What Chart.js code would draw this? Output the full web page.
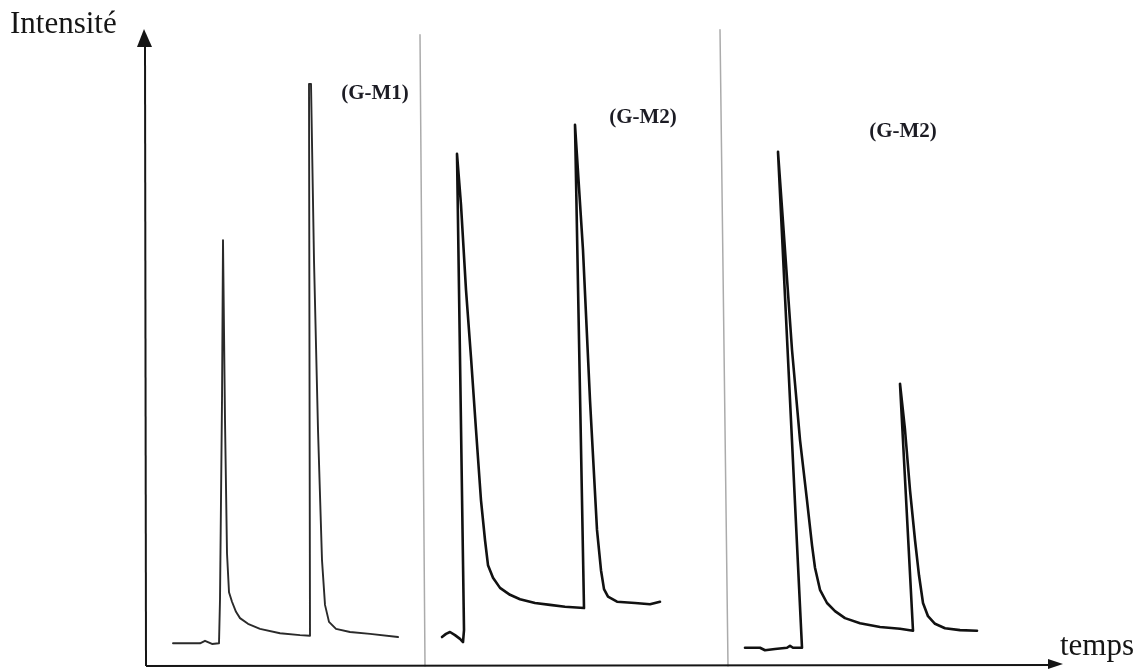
<!DOCTYPE html>
<html lang="fr">
<head>
<meta charset="utf-8">
<title>Intensité / temps</title>
<script src="https://cdn.jsdelivr.net/npm/chart.js@4/dist/chart.umd.min.js"></script>
<style>
  html, body { margin: 0; padding: 0; background: #fff; }
  #wrap { width: 1142px; height: 670px; position: relative; }
</style>
</head>
<body>
<div id="wrap"><canvas id="chromato"></canvas></div>
<script>
// ─── Traces (time in arbitrary units, intensity in % of full scale) ─────────
const p1Time      = [2.7, 5.4, 5.9, 6.6, 7.3, 7.4, 7.6, 7.7, 7.9, 8.1, 8.3, 8.6, 9.0, 9.4, 10.2, 11.4, 13.4, 15.4, 16.4,
                     16.3, 16.5, 16.8, 17.2, 17.6, 17.9, 18.3, 19.0, 20.4, 22.4, 25.2];
const p1Intensity = [3.6, 3.6, 4.0, 3.5, 3.6, 10.5, 42.2, 67.6, 39.0, 17.9, 11.7, 10.2, 8.6, 7.6, 6.7, 5.9, 5.2, 4.9, 4.8,
                     92.4, 92.4, 64.4, 37.5, 16.8, 9.7, 7.0, 5.9, 5.4, 5.1, 4.6];

const p2Time      = [29.6, 30.0, 30.4, 30.9, 31.4, 31.7, 31.8, 31.1, 31.5, 32.0, 32.5, 33.0, 33.5, 33.9,
                     34.2, 34.7, 35.4, 36.4, 37.4, 38.9, 40.4, 41.9, 43.8,
                     42.9, 43.7, 44.4, 45.1, 45.5, 45.8, 46.2, 47.1, 48.9, 50.4, 51.4];
const p2Intensity = [4.6, 5.1, 5.4, 4.9, 4.3, 3.8, 5.7, 81.3, 73.2, 59.7, 49.0, 37.5, 26.3, 20.0,
                     16.0, 14.0, 12.4, 11.3, 10.6, 10.0, 9.7, 9.4, 9.2,
                     85.9, 66.0, 42.2, 21.6, 15.2, 12.2, 11.0, 10.2, 10.0, 9.8, 10.2];

const p3Time      = [59.9, 61.4, 61.9, 62.9, 64.1, 64.4, 64.7, 65.6,
                     63.2, 63.9, 64.6, 65.4, 66.1, 66.6, 66.9, 67.4, 68.1, 68.9, 69.9, 71.4, 73.4, 75.4, 76.7,
                     75.4, 75.9, 76.4, 76.9, 77.3, 77.7, 78.2, 78.9, 79.9, 81.4, 83.1];
const p3Intensity = [2.9, 2.9, 2.5, 2.7, 2.9, 3.2, 2.9, 2.9,
                     81.6, 66.0, 50.2, 35.9, 26.3, 19.2, 15.6, 12.1, 10.0, 8.7, 7.6, 6.8, 6.2, 5.9, 5.6,
                     44.8, 37.5, 27.9, 20.0, 14.4, 10.0, 7.9, 6.7, 6.0, 5.7, 5.6];

const panelNames = ['(G-M1)', '(G-M2)', '(G-M2)'];

// ─── Layout helpers ─────────────────────────────────────────────────────────
const zip = (xs, ys) => xs.map((x, i) => ({ x, y: ys[i] }));

// panel separators (time at top, time at bottom, top intensity)
const separators = [[27.4, 27.9, 100.2], [57.4, 58.2, 101]];
// where each panel name sits, in data units
const nameAnchors = [[22.9, 90.8], [49.7, 87.1], [75.7, 84.8]];

const SERIF = '"Liberation Serif", "Times New Roman", serif';

function trace(data, color, width) {
  return {
    data, borderColor: color, borderWidth: width, showLine: true,
    pointRadius: 0, tension: 0, clip: false, borderJoinStyle: 'round', borderCapStyle: 'round'
  };
}

const datasets = [
  trace(zip(p1Time, p1Intensity), '#2a2a2a', 1.9),
  trace(zip(p2Time, p2Intensity), '#111', 2.6),
  trace(zip(p3Time, p3Intensity), '#111', 2.6),
  ...separators.map(([t0, t1, top]) => trace([{ x: t0, y: top }, { x: t1, y: 0 }], '#ababab', 1.5)),
];

// ─── Axes with arrows + text ────────────────────────────────────────────────
const decor = {
  id: 'decor',
  afterDatasetsDraw(chart) {
    const { ctx, chartArea: a, scales: { x, y } } = chart;
    ctx.save();
    ctx.strokeStyle = '#151515';
    ctx.fillStyle = '#151515';
    ctx.lineWidth = 2;

    // vertical axis
    ctx.beginPath();
    ctx.moveTo(a.left, a.bottom);
    ctx.lineTo(a.left - 1, a.top + 10);
    ctx.stroke();
    ctx.beginPath();
    ctx.moveTo(a.left - 2, a.top - 7);
    ctx.lineTo(a.left - 9, a.top + 11);
    ctx.lineTo(a.left + 6, a.top + 11);
    ctx.closePath();
    ctx.fill();

    // horizontal axis
    ctx.beginPath();
    ctx.moveTo(a.left, a.bottom);
    ctx.lineTo(a.right - 16, a.bottom - 1);
    ctx.stroke();
    ctx.beginPath();
    ctx.moveTo(a.right - 3, a.bottom - 2);
    ctx.lineTo(a.right - 18, a.bottom - 7);
    ctx.lineTo(a.right - 18, a.bottom + 3);
    ctx.closePath();
    ctx.fill();

    // axis names
    ctx.font = '31px ' + SERIF;
    ctx.textBaseline = 'alphabetic';
    ctx.textAlign = 'left';
    ctx.fillText('Intensité', 10, 33);
    ctx.fillText('temps', a.right - 6, a.bottom - 11);

    // panel names
    ctx.fillStyle = '#1c1c24';
    ctx.font = 'bold 21px ' + SERIF;
    ctx.textAlign = 'center';
    ctx.textBaseline = 'middle';
    panelNames.forEach((name, i) => {
      const [t, v] = nameAnchors[i];
      ctx.fillText(name, x.getPixelForValue(t), y.getPixelForValue(v));
    });
    ctx.restore();
  }
};

new Chart(document.getElementById('chromato'), {
  type: 'scatter',
  data: { datasets },
  options: {
    responsive: true,
    maintainAspectRatio: false,
    animation: false,
    layout: { padding: { left: 146, right: 76, top: 36, bottom: 4 } },
    plugins: { legend: { display: false }, tooltip: { enabled: false } },
    scales: {
      x: { type: 'linear', min: 0, max: 92, display: false },
      y: { type: 'linear', min: 0, max: 100, display: false }
    }
  },
  plugins: [decor]
});
</script>
</body>
</html>
